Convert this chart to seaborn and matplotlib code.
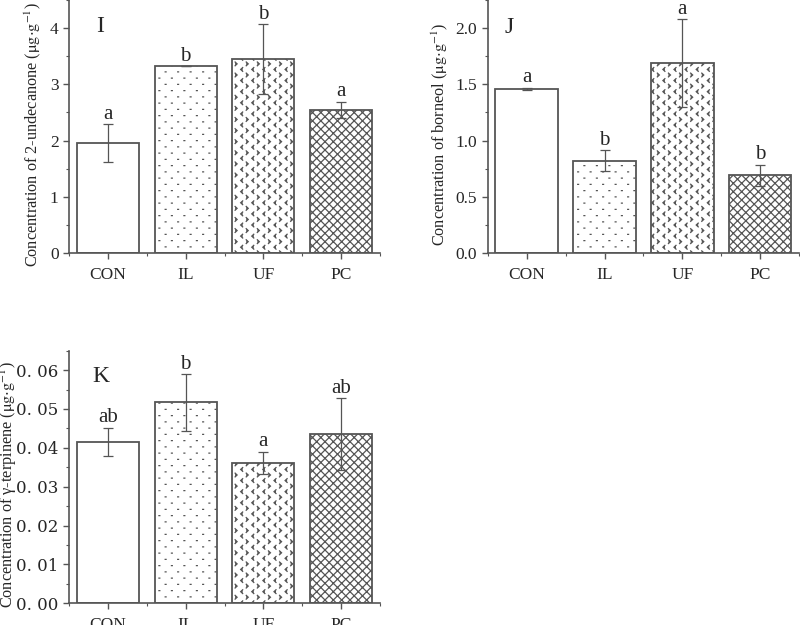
import numpy as np
import pandas as pd
import matplotlib
matplotlib.use("Agg")
import matplotlib.pyplot as plt
import matplotlib.hatch as mhatch
from matplotlib.path import Path
from matplotlib.ticker import MultipleLocator, FuncFormatter
import seaborn as sns
import warnings
warnings.filterwarnings("ignore")

# ── data ───────────────────────────────────────────────────────────────
groups = ["CON", "IL", "UF", "PC"]

undecanone_mean = [1.95, 3.32, 3.45, 2.55]
undecanone_err  = [0.34, 0.0, 0.62, 0.14]
undecanone_sig  = ["a", "b", "b", "a"]

borneol_mean = [1.46, 0.82, 1.69, 0.69]
borneol_err  = [0.01, 0.095, 0.39, 0.095]
borneol_sig  = ["a", "b", "a", "b"]

terpinene_mean = [0.0415, 0.0517, 0.0361, 0.0435]
terpinene_err  = [0.0037, 0.0073, 0.0029, 0.0092]
terpinene_sig  = ["ab", "b", "a", "ab"]

hatches = ["", "d", "v", "xxxx"]


# ── custom hatches: staggered grid of small marks, two per cell ────────
class GridMarks(mhatch.HatchPatternBase):
    char = ""
    cells = 8
    marks = []          # list of (centre, vertices) in cell units

    def __init__(self, hatch, density):
        self.n = hatch.count(self.char) * self.cells if self.char else 0
        per_cell = sum(len(v) for _, v in self.marks)
        self.num_vertices = self.n * self.n * per_cell

    def set_vertices_and_codes(self, vertices, codes):
        c = 1.0 / self.n
        verts, cods = [], []
        for i in range(self.n):
            for j in range(self.n):
                for (cx, cy), shape in self.marks:
                    shape = np.asarray(shape)
                    verts.append((shape + [cx, cy] + [i, j]) * c)
                    cc = np.full(len(shape), Path.LINETO, dtype=Path.code_type)
                    cc[0] = Path.MOVETO
                    cods.append(cc)
        vertices[:] = np.concatenate(verts)
        codes[:] = np.concatenate(cods)


class Chevrons(GridMarks):
    char = "v"
    cells = 9
    marks = [((0.25, 0.25), [[-0.09, 0.17], [0.09, 0.0], [-0.09, -0.17]]),
             ((0.75, 0.75), [[0.09, 0.17], [-0.09, 0.0], [0.09, -0.17]])]


class Dots(GridMarks):
    char = "d"
    cells = 8
    marks = [((0.25, 0.25), [[-0.035, 0.0], [0.035, 0.0]]),
             ((0.75, 0.75), [[-0.035, 0.0], [0.035, 0.0]])]


mhatch._hatch_types.extend([Chevrons, Dots])

sns.set_style("ticks")
plt.rcParams["font.family"] = ["Liberation Serif", "DejaVu Serif"]
plt.rcParams["mathtext.fontset"] = "stix"
plt.rcParams["hatch.linewidth"] = 0.9
plt.rcParams["hatch.color"] = "#333333"

EDGE = "#555555"

fig = plt.figure(figsize=(8, 6.25), dpi=100)
ax_i = fig.add_axes([0.08625, 0.5952, 0.38875, 0.4048])
ax_j = fig.add_axes([0.6096, 0.5952, 0.3894, 0.4048])
ax_k = fig.add_axes([0.08625, 0.0347, 0.38875, 0.4042])


def draw_panel(ax, mean, err, sig, ylabel, ylim, major, minor, tag, tagpos,
               label_pos, fmt=None):
    df = pd.DataFrame({"group": groups, "value": mean})
    sns.barplot(data=df, x="group", y="value", ax=ax, color="white",
                edgecolor=EDGE, linewidth=1.3, width=0.8, errorbar=None)
    for bar, h in zip(ax.patches, hatches):
        bar.set_hatch(h)
    ax.errorbar(range(len(groups)), mean, yerr=err, fmt="none",
                ecolor="#555555", elinewidth=0.9, capsize=3.5, capthick=0.9)
    for i, (m, e, s) in enumerate(zip(mean, err, sig)):
        ax.text(i, m + e + ylim * 0.002, s, ha="center", va="bottom", fontsize=15)
    ax.set_xlim(-0.5, 3.5)
    ax.set_ylim(0, ylim)
    ax.yaxis.set_major_locator(MultipleLocator(major))
    ax.yaxis.set_minor_locator(MultipleLocator(minor))
    ax.xaxis.set_minor_locator(MultipleLocator(0.5))
    if fmt is not None:
        ax.yaxis.set_major_formatter(FuncFormatter(fmt))
    ax.set_xlabel("")
    ax.set_ylabel(ylabel, fontsize=11.7)
    ax.yaxis.set_label_coords(*label_pos)
    ax.tick_params(axis="both", which="major", labelsize=12.5, length=4,
                   width=1, color=EDGE, direction="out")
    ax.tick_params(axis="both", which="minor", length=2.5, width=0.8,
                   color=EDGE, direction="out")
    ax.tick_params(axis="x", which="major", pad=6)
    for side in ["left", "bottom"]:
        ax.spines[side].set_color(EDGE)
        ax.spines[side].set_linewidth(1.2)
    sns.despine(ax=ax)
    ax.text(tagpos[0], tagpos[1], tag, transform=ax.transAxes,
            fontsize=17, ha="left", va="center")


unit = r"($\mathrm{\mu g{\cdot}g^{-1}}$)"

draw_panel(ax_i, undecanone_mean, undecanone_err, undecanone_sig,
           "Concentration of 2-undecanone " + unit, 4.5, 1, 0.5, "I",
           (0.087, 0.897), (-0.085, 0.47))
draw_panel(ax_j, borneol_mean, borneol_err, borneol_sig,
           "Concentration of borneol " + unit, 2.25, 0.5, 0.25, "J",
           (0.055, 0.893), (-0.122, 0.47), fmt=lambda v, p: f"{v:.1f}")
draw_panel(ax_k, terpinene_mean, terpinene_err, terpinene_sig,
           "Concentration of γ-terpinene " + unit, 0.065, 0.01, 0.005, "K",
           (0.074, 0.896), (-0.16, 0.47),
           fmt=lambda v, p: f"{v:.2f}".replace(".", ". "))
for lab in ax_k.get_yticklabels():
    lab.set_fontfamily("DejaVu Serif")
    lab.set_fontsize(12)

fig.savefig("out.png", dpi=100)
plt.close()
